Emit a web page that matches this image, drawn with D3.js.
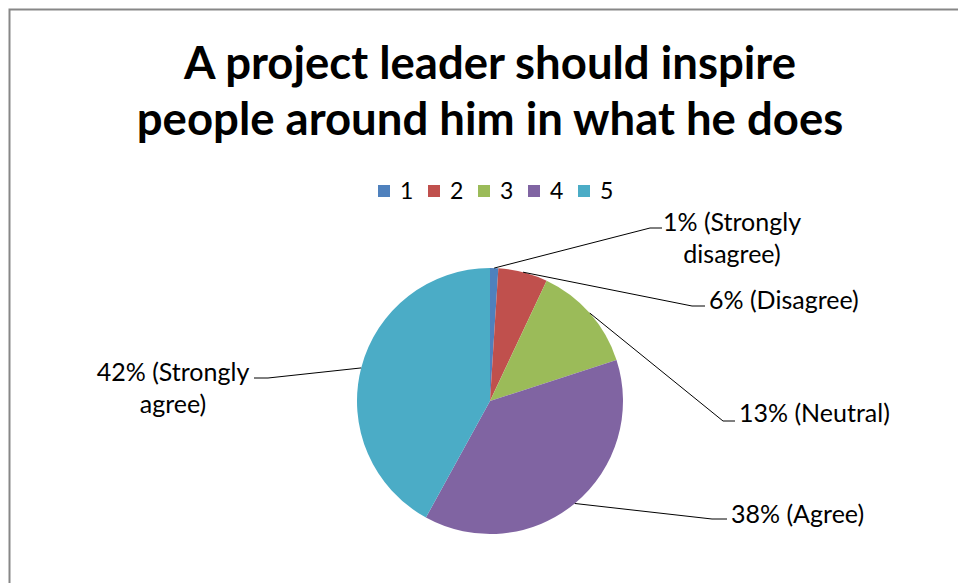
<!DOCTYPE html>
<html>
<head>
<meta charset="utf-8">
<script src="https://cdn.jsdelivr.net/npm/d3@7"></script>
<style>
  body { margin: 0; background: #fff; }
  text { font-family: Lato, "Noto Sans", sans-serif; fill: #000; }
</style>
</head>
<body>
<script>
// data
var categories = ["1", "2", "3", "4", "5"];
var values = [1, 6, 13, 38, 42];
var labelNames = ["Strongly disagree", "Disagree", "Neutral", "Agree", "Strongly agree"];
var labelLines = [["1% (Strongly", "disagree)"], ["6% (Disagree)"], ["13% (Neutral)"], ["38% (Agree)"], ["42% (Strongly", "agree)"]];
var colors = ["#4F81BD", "#C0504D", "#9BBB59", "#8064A2", "#4BACC6"];

var W = 958, H = 583;
var cx = 490, cy = 401, r = 133;

// leader layout: elbow point, end of the short tick, text anchor
var leader = [
  { ex: 650, ey: 228, tx: 662, textX: 732, textY: 222, anchor: "middle" },
  { ex: 692, ey: 306, tx: 705, textX: 709, textY: 300, anchor: "start" },
  { ex: 723, ey: 421, tx: 735, textX: 739, textY: 413, anchor: "start" },
  { ex: 712, ey: 519, tx: 727, textX: 731, textY: 514, anchor: "start" },
  { ex: 268, ey: 378, tx: 254, textX: 173, textY: 372, anchor: "middle" }
];

var svg = d3.select("body").append("svg")
    .attr("width", W)
    .attr("height", H);

// chart border (cut off at right/bottom like the screenshot)
svg.append("rect")
    .attr("x", 9.5).attr("y", 9.5)
    .attr("width", 1200).attr("height", 1200)
    .attr("fill", "#fff")
    .attr("stroke", "#878787")
    .attr("stroke-width", 2);

// title
var title = svg.append("text")
    .attr("text-anchor", "middle")
    .style("font-weight", "bold")
    .style("font-size", "45.5px");
title.append("tspan").attr("x", 490).attr("y", 79).text("A project leader should inspire");
title.append("tspan").attr("x", 490).attr("y", 135).text("people around him in what he does");

// legend
var legend = svg.append("g");
var legendX = d3.scalePoint().domain(categories).range([378, 578]);
var li = legend.selectAll("g").data(categories).enter().append("g")
    .attr("transform", function(d) { return "translate(" + legendX(d) + ",185)"; });
li.append("rect").attr("width", 12).attr("height", 12)
    .attr("fill", function(d, i) { return colors[i]; });
li.append("text").attr("x", 22).attr("y", 6).attr("dy", "0.36em")
    .style("font-size", "23px")
    .text(function(d) { return d; });

// pie
var pie = d3.pie().sort(null).value(function(d) { return d; });
var arcs = pie(values);
var arc = d3.arc().innerRadius(0).outerRadius(r);
var edge = d3.arc().innerRadius(r).outerRadius(r);

var g = svg.append("g").attr("transform", "translate(" + cx + "," + cy + ")");
g.selectAll("path").data(arcs).enter().append("path")
    .attr("d", arc)
    .attr("fill", function(d, i) { return colors[i]; });

// leader lines
svg.selectAll("polyline.leader").data(arcs).enter().append("polyline")
    .attr("class", "leader")
    .attr("fill", "none")
    .attr("stroke", "#000")
    .attr("stroke-width", 1)
    .attr("points", function(d, i) {
        var c = edge.centroid(d);
        var L = leader[i];
        return [[cx + c[0], cy + c[1]], [L.ex, L.ey], [L.tx, L.ey]].join(" ");
    });

// labels
var labels = svg.selectAll("text.lbl").data(arcs).enter().append("text")
    .attr("class", "lbl")
    .attr("text-anchor", function(d, i) { return leader[i].anchor; })
    .style("font-size", "25px")
    .attr("data-name", function(d, i) { return labelNames[i]; });
labels.each(function(d, i) {
    var t = d3.select(this);
    labelLines[i].forEach(function(s, k) {
        t.append("tspan")
            .attr("x", leader[i].textX)
            .attr("y", leader[i].textY + k * 32)
            .attr("dy", "0.36em")
            .text(s);
    });
});
</script>
</body>
</html>
